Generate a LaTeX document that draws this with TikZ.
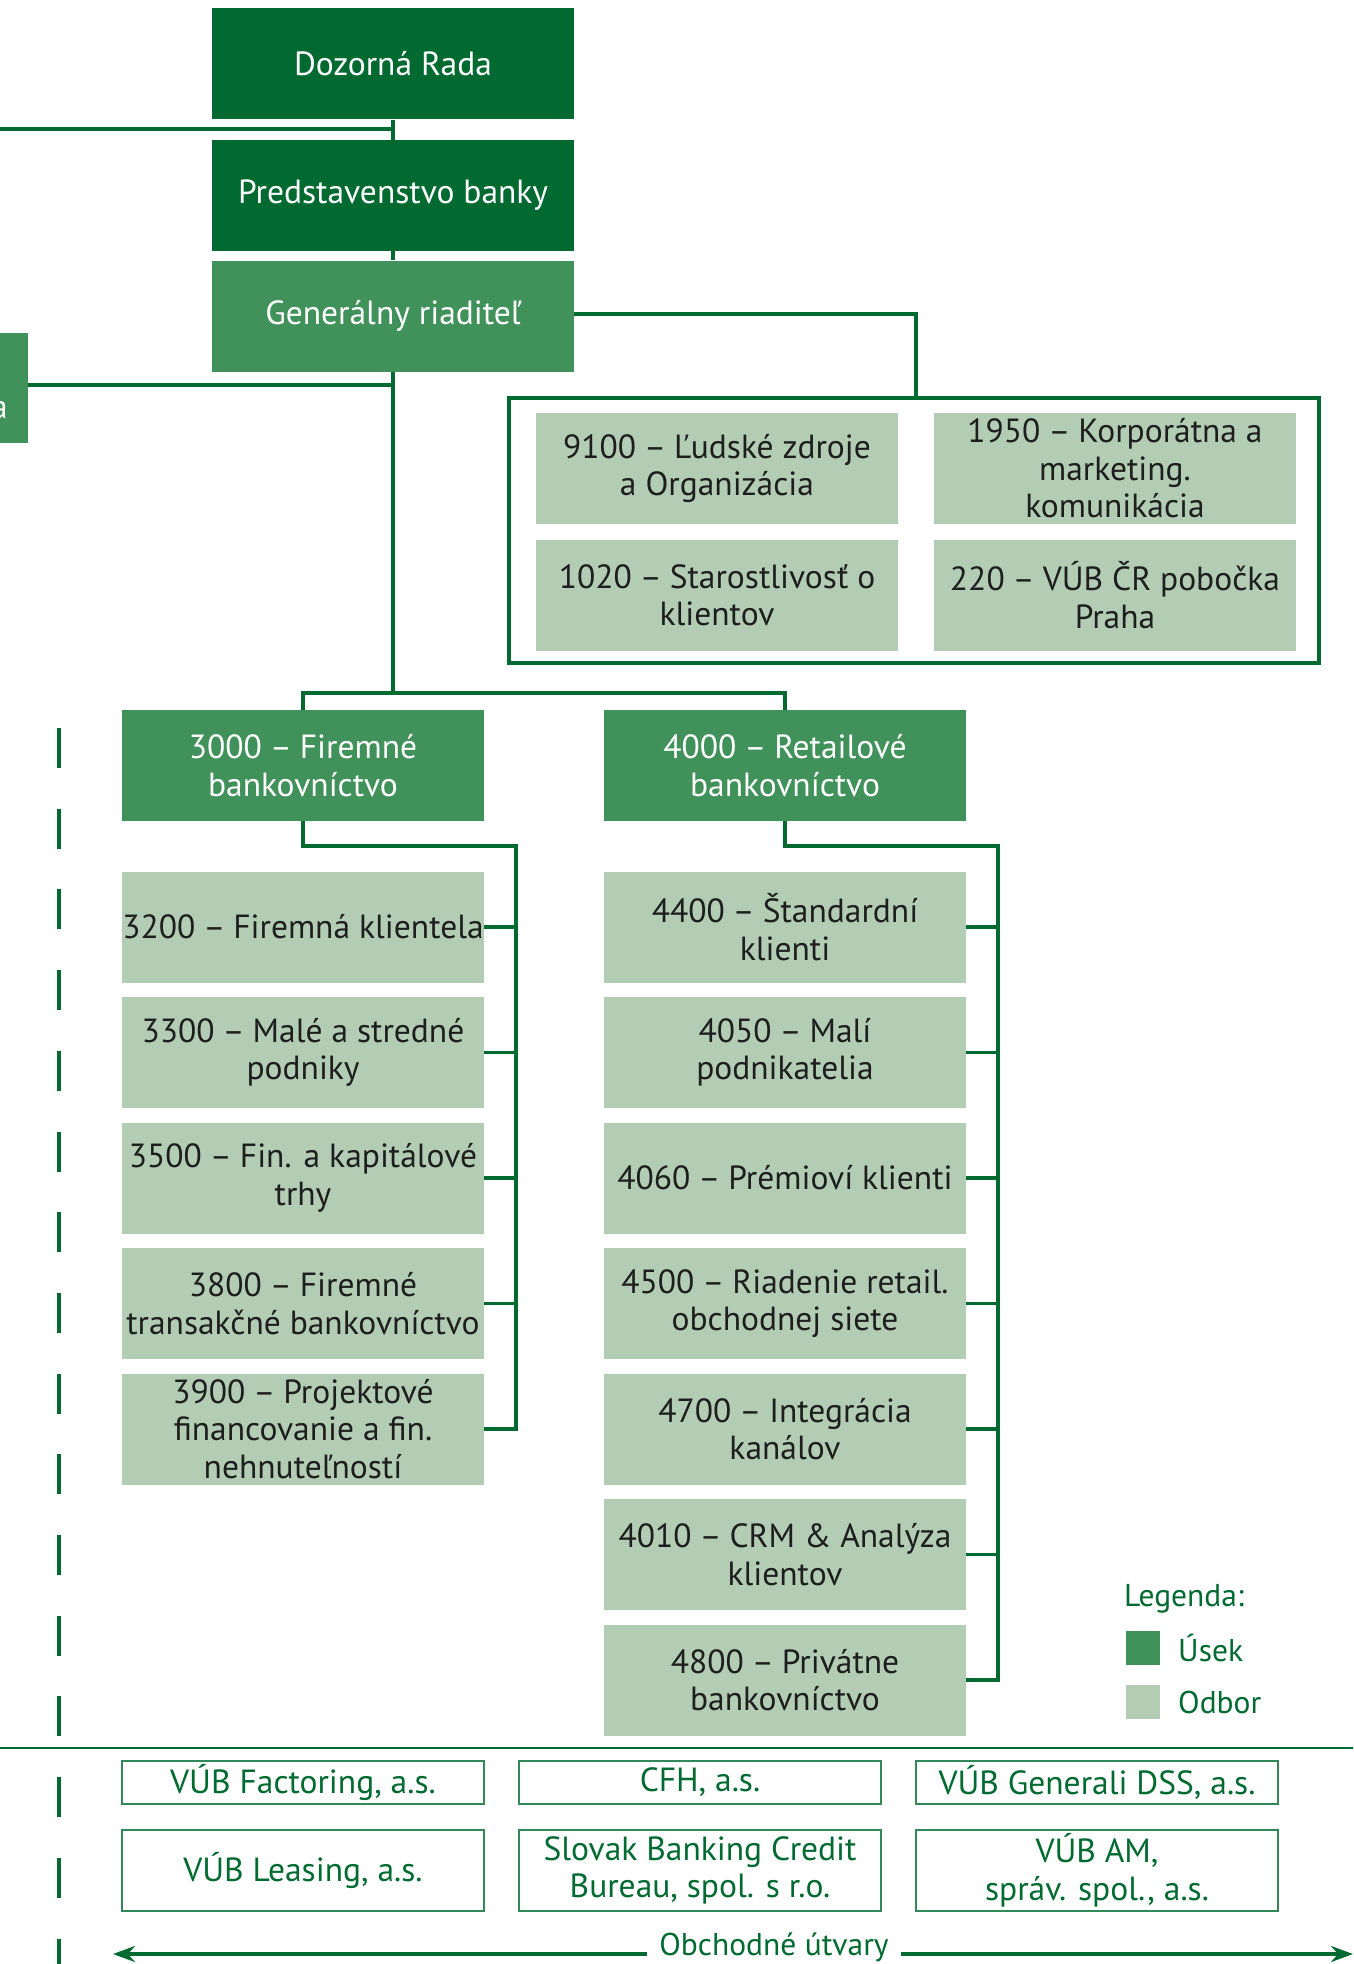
\documentclass[tikz,border=0pt]{standalone}
\usepackage{fontspec}
\setmainfont{PT Sans}
\usetikzlibrary{arrows.meta}
\definecolor{dkg}{RGB}{0,106,48}
\definecolor{mdg}{RGB}{64,145,90}
\definecolor{ltg}{RGB}{179,205,180}
\definecolor{txt}{RGB}{30,30,30}
\newcommand\dsh{\kern-0.03em–\kern-0.03em}
\tikzset{
  x=1pt,y=-1pt,
  boxfont/.style={font=\fontsize{33.5}{37.5}\selectfont},
  base/.style={boxfont,minimum width=362pt,minimum height=111pt,inner sep=0pt,align=center},
  vedenie/.style={base,fill=dkg,text=white},
  usek/.style={base,fill=mdg,text=white},
  odbor/.style={base,fill=ltg,text=txt},
  firma/.style={boxfont,minimum width=362pt,inner sep=0pt,align=center,draw=dkg!80,line width=1.5pt,text=dkg},
  conn/.style={draw=dkg,line width=3.5pt},
  legtext/.style={text=dkg,font=\fontsize{31.5}{37.5}\selectfont,inner sep=0pt}
}
\begin{document}
\begin{tikzpicture}
\useasboundingbox (0,0) rectangle (1353,1964);
\clip (0,0) rectangle (1353,1964);
% top nodes
\node[vedenie] (dr) at (393,64) {Dozorná Rada};
\node[vedenie] (pb) at (393,195.5) {Predstavenstvo banky};
\node[usek] (gr) at (393,316) {Generálny riaditeľ};
% left partial box
\node[usek,minimum width=60pt,minimum height=110pt,anchor=north east] (lb) at (28,333) {};
\node[text=white,boxfont,inner sep=0pt,anchor=base east] (lba) at (8,418) {a};
\coordinate (l1) at (-5,129);
\coordinate (c1) at (393,129);
\coordinate (c2) at (393,385);
\coordinate (c3) at (393,693);
% staff box
\node[draw=dkg,line width=4pt,minimum width=810pt,minimum height=265pt,inner sep=0pt] (staff) at (914,530.5) {};
\node[odbor] (s9100) at (717,468.5) {9100 \dsh{} Ľudské zdroje\\a Organizácia};
\node[odbor] (s1950) at (1115,468.5) {1950 \dsh{} Korporátna a\\marketing.\\komunikácia};
\node[odbor] (s1020) at (717,595) {1020 \dsh{} Starostlivosť o\\klientov};
\node[odbor] (s220) at (1115,595) {220 \dsh{} VÚB ČR pobočka\\Praha};
% divisions
\node[usek] (f3000) at (303,765.5) {3000 \dsh{} Firemné\\bankovníctvo};
\node[usek] (r4000) at (785,765.5) {4000 \dsh{} Retailové\\bankovníctvo};
\node[odbor] (f3200) at (303,927) {3200 \dsh{} Firemná klientela};
\node[odbor] (f3300) at (303,1052.5) {3300 \dsh{} Malé a stredné\\podniky};
\node[odbor] (f3500) at (303,1178) {3500 \dsh{} Fin. a kapitálové\\trhy};
\node[odbor] (f3800) at (303,1303.5) {3800 \dsh{} Firemné\\transakčné bankovníctvo};
\node[odbor] (f3900) at (303,1429) {3900 \dsh{} Projektové\\financovanie a fin.\\nehnuteľností};
\node[odbor] (r4400) at (785,927) {4400 \dsh{} Štandardní\\klienti};
\node[odbor] (r4050) at (785,1052.5) {4050 \dsh{} Malí\\podnikatelia};
\node[odbor] (r4060) at (785,1178) {4060 \dsh{} Prémioví klienti};
\node[odbor] (r4500) at (785,1303.5) {4500 \dsh{} Riadenie retail.\\obchodnej siete};
\node[odbor] (r4700) at (785,1429) {4700 \dsh{} Integrácia\\kanálov};
\node[odbor] (r4010) at (785,1554.5) {4010 \dsh{} CRM \& Analýza\\klientov};
\node[odbor] (r4800) at (785,1680) {4800 \dsh{} Privátne\\bankovníctvo};
% connectors top
\draw[conn] (l1) -- (c1);
\draw[conn] (lb.east |- c2) -- (c2);
\draw[conn] (dr.south) -- (pb.north);
\draw[conn] (pb.south) -- (gr.north);
\draw[conn] (gr.south) -- (c3);
\draw[conn] (gr.east |- 0,314) -- (916,314) -- (staff.north -| 916,0);
\draw[conn] (f3000.north) -- (f3000.north |- c3) -- (r4000.north |- c3) -- (r4000.north);
% brackets
\coordinate (fb) at (516,846);
\coordinate (rb) at (998,846);
\draw[conn] (f3000.south) -- (f3000.south |- fb) -- (fb) -- (fb |- f3900.east) -- (f3900.east);
\foreach \n in {f3200,f3300,f3500,f3800} \draw[conn] (\n.east) -- (\n.east -| fb);
\draw[conn] (r4000.south) -- (r4000.south |- rb) -- (rb) -- (rb |- r4800.east) -- (r4800.east);
\foreach \n in {r4400,r4050,r4060,r4500,r4700,r4010} \draw[conn] (\n.east) -- (\n.east -| rb);
% dashed line
\coordinate (d1) at (59,728);
\coordinate (d2) at (59,1990);
\draw[draw=dkg,line width=3.5pt,dash pattern=on 40pt off 40.7pt] (d1) -- (d2);
% separator
\coordinate (h1) at (-5,1748);
\coordinate (h2) at (1360,1748);
\draw[draw=dkg,line width=2.5pt] (h1) -- (h2);
% legend
\node[legtext,anchor=west] (leg) at (1124,1599) {Legenda:};
\node[fill=mdg,minimum width=34pt,minimum height=34pt,inner sep=0pt] (lu) at (1143,1648) {};
\node[legtext,anchor=west] (lut) at (1178,1648) {Úsek};
\node[fill=ltg,minimum width=34pt,minimum height=34pt,inner sep=0pt] (lo) at (1143,1702) {};
\node[legtext,anchor=west] (lot) at (1178,1702) {Odbor};
% companies
\node[firma,minimum height=43pt] (c11) at (303,1782.5) {VÚB Factoring, a.s.};
\node[firma,minimum height=43pt] (c12) at (700,1782.5) {CFH, a.s.};
\node[firma,minimum height=43pt] (c13) at (1097,1782.5) {VÚB Generali DSS, a.s.};
\node[firma,minimum height=81pt] (c21) at (303,1870.5) {VÚB Leasing, a.s.};
\node[firma,minimum height=81pt] (c22) at (700,1870.5) {Slovak Banking Credit\\Bureau, spol. s r.o.};
\node[firma,minimum height=81pt] (c23) at (1097,1870.5) {VÚB AM,\\správ. spol., a.s.};
% bottom arrow
\node[legtext] (ob) at (774,1947) {Obchodné útvary};
\coordinate (al) at (113,1954);
\coordinate (ar) at (1353,1954);
\draw[conn,-{Stealth[length=22pt,width=16pt]}] (ob.west |- al) ++(-12,0) -- (al);
\draw[conn,-{Stealth[length=22pt,width=16pt]}] (ob.east |- ar) ++(12,0) -- (ar);
\end{tikzpicture}
\end{document}
